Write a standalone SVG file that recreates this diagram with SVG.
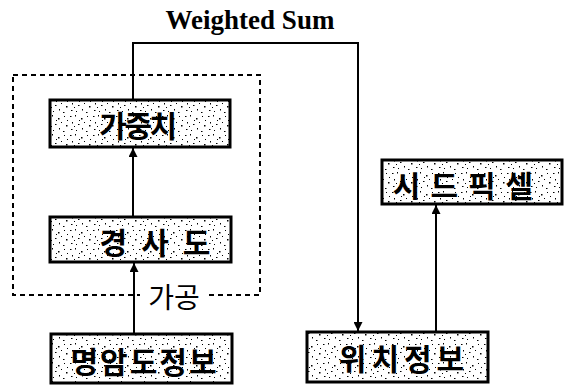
<svg xmlns="http://www.w3.org/2000/svg" width="567" height="386" viewBox="0 0 567 386">
<style>
.box{stroke:#000;stroke-width:3;fill:url(#speck)}
.lbl{font-family:"Noto Sans CJK KR","Noto Sans",sans-serif;font-weight:bold;font-size:30px;fill:#000;text-anchor:middle;dominant-baseline:central}
.ln{stroke:#000;stroke-width:2;fill:none}
.title{font-family:"Liberation Serif",serif;font-weight:bold;font-size:27px;fill:#000;text-anchor:middle}
</style>
<defs>
<pattern id="speck" patternUnits="userSpaceOnUse" width="23" height="19">
<rect width="23" height="19" fill="#fff"/>
<g fill="#000">
<rect x="1" y="2" width="1.5" height="1"/><rect x="6" y="1" width="1" height="1.5"/><rect x="12" y="4" width="1.5" height="1.5"/>
<rect x="18" y="2" width="1" height="1"/><rect x="3" y="8" width="1" height="1.5"/><rect x="9" y="10" width="1.5" height="1"/>
<rect x="15" y="8" width="1" height="1"/><rect x="20" y="11" width="1.5" height="1.5"/><rect x="2" y="15" width="1.5" height="1"/>
<rect x="7" y="16" width="1" height="1"/><rect x="13" y="14" width="1" height="1.5"/><rect x="17" y="17" width="1.5" height="1"/>
<rect x="10" y="6" width="1" height="1"/><rect x="21" y="6" width="1" height="1"/><rect x="5" y="12" width="1" height="1"/>
</g>
</pattern>
<marker id="ah" viewBox="0 0 10 10" markerWidth="9" markerHeight="9" refX="10" refY="5" orient="auto" markerUnits="userSpaceOnUse">
<path d="M0,0 L10,5 L0,10 z" fill="#000"/>
</marker>
</defs>
<text class="title" x="250" y="29">Weighted Sum</text>
<g id="group-dashed">
<rect x="13" y="75" width="247" height="220" fill="none" stroke="#000" stroke-width="2" stroke-dasharray="5,4"/>
<rect x="140" y="283" width="68" height="26" fill="#fff"/>
<text class="lbl" x="174" y="296" style="font-weight:normal;font-size:28px">가공</text>
</g>
<g id="connectors">
<line class="ln" x1="134" y1="334" x2="134" y2="263" marker-end="url(#ah)"/>
<line class="ln" x1="133" y1="217" x2="133" y2="148" marker-end="url(#ah)"/>
<line class="ln" x1="436" y1="332" x2="436" y2="205" marker-end="url(#ah)"/>
<polyline class="ln" points="133,100 133,43 358,43 358,331" marker-end="url(#ah)"/>
</g>
<g id="n-weight">
<rect class="box" x="50" y="100" width="180" height="47"/>
<text class="lbl" x="137" y="124" letter-spacing="-2.5">가중치</text>
</g>
<g id="n-gradient">
<rect class="box" x="50" y="217" width="181" height="45"/>
<text class="lbl" x="162" y="241" letter-spacing="14">경사도</text>
</g>
<g id="n-intensity">
<rect class="box" x="51" y="334" width="181" height="49"/>
<text class="lbl" x="144.5" y="360" letter-spacing="2">명암도정보</text>
</g>
<g id="n-seed">
<rect class="box" x="382" y="160" width="180" height="44"/>
<text class="lbl" x="468" y="184" letter-spacing="10">시드픽셀</text>
</g>
<g id="n-position">
<rect class="box" x="307" y="332" width="181" height="50"/>
<text class="lbl" x="404" y="357" letter-spacing="5">위치정보</text>
</g>
</svg>
